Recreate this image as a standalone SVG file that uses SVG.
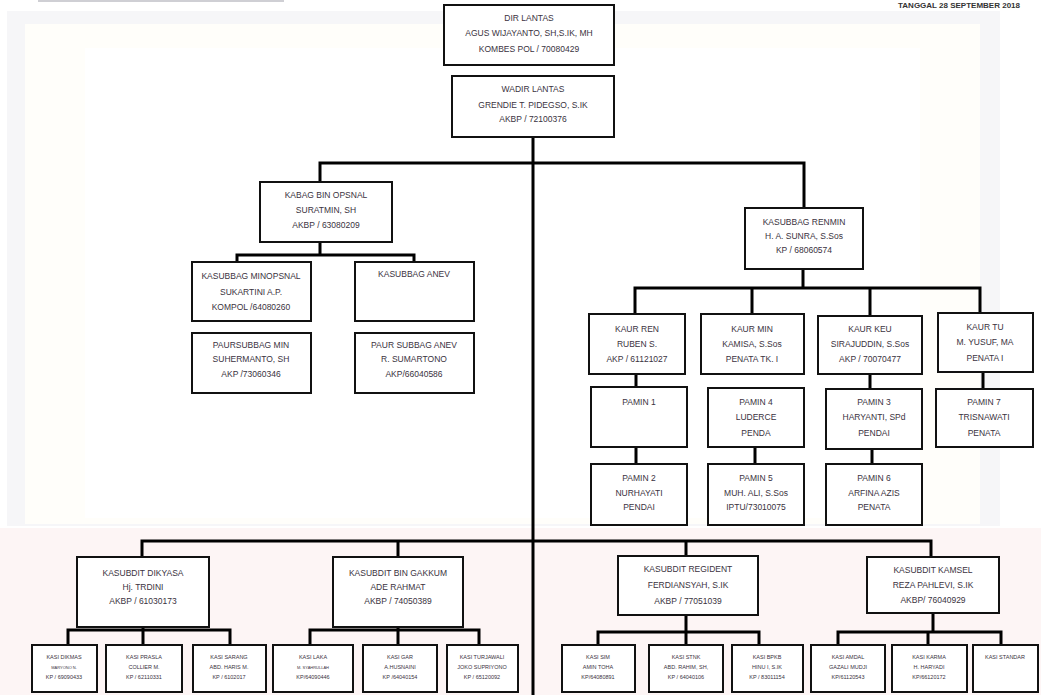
<svg xmlns="http://www.w3.org/2000/svg" width="1041" height="695" viewBox="0 0 1041 695">
<style>
.b{fill:#fff;stroke:#111;stroke-width:2}
.c{stroke:#000;stroke-width:3;fill:none;stroke-linecap:square}
.t{font-family:"Liberation Sans Narrow","Liberation Sans",Arial,sans-serif;font-size:8.5px;fill:#3a3240;text-anchor:middle}
.s{font-family:"Liberation Sans Narrow","Liberation Sans",Arial,sans-serif;font-size:5.5px;fill:#3a3240;text-anchor:middle}
</style>
<rect x="0" y="0" width="1041" height="695" fill="#fff"/>
<rect x="7" y="11" width="993" height="515" fill="#f6f6f8"/>
<rect x="25" y="24" width="955" height="500" fill="#fffefa"/>
<rect x="85" y="48" width="835" height="470" fill="#fff"/>
<rect x="0" y="528" width="1041" height="167" fill="#fdf5f5"/>
<rect x="38" y="0" width="246" height="2" fill="#cfcfd4"/>
<text x="1020" y="8" style="font-family:'Liberation Sans',Arial,sans-serif;font-size:8px;font-weight:bold;fill:#333;text-anchor:end">TANGGAL 28 SEPTEMBER 2018</text>

<g id="connectors">
<path class="c" d="M533 137V695"/>
<path class="c" d="M320 163H804M320 163V182M804 163V208"/>
<path class="c" d="M320 242V255M237 255H414M237 255V262M414 255V262"/>
<path class="c" d="M803 269V288M635 288H980M635 288V314M752 288V314M870 288V316M980 288V313"/>
<path class="c" d="M636 374V387M870 374V389M983 372V389"/>
<path class="c" d="M636 447V464M755 447V464M872 449V464"/>
<path class="c" d="M142 541H931M142 541V557M398 541V557M686 541V556M931 541V557"/>
<path class="c" d="M143 627V630M68 630H230M68 630V645M143 630V645M230 630V645"/>
<path class="c" d="M398 627V630M310 630H479M310 630V645M398 630V645M479 630V645"/>
<path class="c" d="M686 615V632M598 632H759M598 632V645M686 632V645M759 632V645"/>
<path class="c" d="M933 613V632M838 632H1001M838 632V645M928 632V645M1001 632V645"/>
</g>

<g id="dir"><rect class="b" x="444" y="5" width="170" height="60"/>
<text class="t" x="529" y="21">DIR LANTAS</text><text class="t" x="529" y="36">AGUS WIJAYANTO, SH,S.IK, MH</text><text class="t" x="529" y="52">KOMBES POL / 70080429</text></g>
<g id="wadir"><rect class="b" x="452" y="76" width="162" height="61"/>
<text class="t" x="533" y="92">WADIR LANTAS</text><text class="t" x="533" y="108">GRENDIE T. PIDEGSO, S.IK</text><text class="t" x="533" y="122">AKBP / 72100376</text></g>

<g id="kabag"><rect class="b" x="260" y="182" width="132" height="60"/>
<text class="t" x="326" y="198">KABAG BIN OPSNAL</text><text class="t" x="326" y="213">SURATMIN, SH</text><text class="t" x="326" y="228">AKBP / 63080209</text></g>
<g id="minopsnal"><rect class="b" x="192" y="262" width="119" height="59"/>
<text class="t" x="251" y="279">KASUBBAG MINOPSNAL</text><text class="t" x="251" y="295">SUKARTINI A.P.</text><text class="t" x="251" y="310">KOMPOL /64080260</text></g>
<g id="anev"><rect class="b" x="355" y="262" width="119" height="59"/>
<text class="t" x="414" y="277">KASUBBAG ANEV</text></g>
<g id="paurmin"><rect class="b" x="192" y="333" width="119" height="60"/>
<text class="t" x="251" y="348">PAURSUBBAG MIN</text><text class="t" x="251" y="362">SUHERMANTO, SH</text><text class="t" x="251" y="377">AKP /73060346</text></g>
<g id="pauranev"><rect class="b" x="355" y="333" width="119" height="60"/>
<text class="t" x="414" y="348">PAUR SUBBAG ANEV</text><text class="t" x="414" y="362">R. SUMARTONO</text><text class="t" x="414" y="377">AKP/66040586</text></g>

<g id="renmin"><rect class="b" x="745" y="208" width="118" height="61"/>
<text class="t" x="804" y="225">KASUBBAG RENMIN</text><text class="t" x="804" y="239">H. A. SUNRA, S.Sos</text><text class="t" x="804" y="253">KP / 68060574</text></g>
<g id="kaurren"><rect class="b" x="589" y="314" width="96" height="60"/>
<text class="t" x="637" y="332">KAUR REN</text><text class="t" x="637" y="347">RUBEN S.</text><text class="t" x="637" y="362">AKP / 61121027</text></g>
<g id="kaurmin"><rect class="b" x="701" y="314" width="103" height="60"/>
<text class="t" x="752" y="332">KAUR MIN</text><text class="t" x="752" y="347">KAMISA, S.Sos</text><text class="t" x="752" y="362">PENATA TK. I</text></g>
<g id="kaurkeu"><rect class="b" x="818" y="316" width="104" height="58"/>
<text class="t" x="870" y="332">KAUR KEU</text><text class="t" x="870" y="347">SIRAJUDDIN, S.Sos</text><text class="t" x="870" y="362">AKP / 70070477</text></g>
<g id="kaurtu"><rect class="b" x="938" y="313" width="95" height="59"/>
<text class="t" x="985" y="330">KAUR  TU</text><text class="t" x="985" y="345">M. YUSUF, MA</text><text class="t" x="985" y="361">PENATA I</text></g>
<g id="pamin1"><rect class="b" x="591" y="387" width="96" height="60"/>
<text class="t" x="639" y="405">PAMIN 1</text></g>
<g id="pamin4"><rect class="b" x="708" y="388" width="96" height="59"/>
<text class="t" x="756" y="405">PAMIN 4</text><text class="t" x="756" y="420">LUDERCE</text><text class="t" x="756" y="436">PENDA</text></g>
<g id="pamin3"><rect class="b" x="826" y="389" width="96" height="60"/>
<text class="t" x="874" y="405">PAMIN 3</text><text class="t" x="874" y="420">HARYANTI, SPd</text><text class="t" x="874" y="436">PENDAI</text></g>
<g id="pamin7"><rect class="b" x="936" y="389" width="97" height="58"/>
<text class="t" x="984" y="405">PAMIN 7</text><text class="t" x="984" y="420">TRISNAWATI</text><text class="t" x="984" y="436">PENATA</text></g>
<g id="pamin2"><rect class="b" x="591" y="464" width="96" height="61"/>
<text class="t" x="639" y="481">PAMIN 2</text><text class="t" x="639" y="496">NURHAYATI</text><text class="t" x="639" y="510">PENDAI</text></g>
<g id="pamin5"><rect class="b" x="708" y="464" width="96" height="61"/>
<text class="t" x="756" y="481">PAMIN 5</text><text class="t" x="756" y="496">MUH. ALI, S.Sos</text><text class="t" x="756" y="510">IPTU/73010075</text></g>
<g id="pamin6"><rect class="b" x="826" y="464" width="96" height="61"/>
<text class="t" x="874" y="481">PAMIN 6</text><text class="t" x="874" y="496">ARFINA AZIS</text><text class="t" x="874" y="510">PENATA</text></g>

<g id="dikyasa"><rect class="b" x="77" y="557" width="132" height="70"/>
<text class="t" x="143" y="576">KASUBDIT DIKYASA</text><text class="t" x="143" y="590">Hj. TRDINI</text><text class="t" x="143" y="604">AKBP / 61030173</text></g>
<g id="gakkum"><rect class="b" x="333" y="557" width="130" height="70"/>
<text class="t" x="398" y="576">KASUBDIT BIN GAKKUM</text><text class="t" x="398" y="590">ADE RAHMAT</text><text class="t" x="398" y="604">AKBP / 74050389</text></g>
<g id="regident"><rect class="b" x="618" y="556" width="140" height="59"/>
<text class="t" x="688" y="572">KASUBDIT REGIDENT</text><text class="t" x="688" y="588">FERDIANSYAH, S.IK</text><text class="t" x="688" y="604">AKBP / 77051039</text></g>
<g id="kamsel"><rect class="b" x="867" y="557" width="132" height="56"/>
<text class="t" x="933" y="573">KASUBDIT KAMSEL</text><text class="t" x="933" y="588">REZA PAHLEVI, S.IK</text><text class="t" x="933" y="603">AKBP/  76040929</text></g>

<g id="dikmas"><rect class="b" x="32" y="645" width="65" height="47"/>
<text class="s" x="64" y="659">KASI DIKMAS</text><text class="s" x="64" y="669" style="font-size:4px">MARYONO N.</text><text class="s" x="64" y="679">KP / 69090433</text></g>
<g id="prasla"><rect class="b" x="106" y="645" width="76" height="47"/>
<text class="s" x="144" y="659">KASI PRASLA</text><text class="s" x="144" y="669">COLLIER M.</text><text class="s" x="144" y="679">KP / 62110331</text></g>
<g id="sarang"><rect class="b" x="193" y="645" width="73" height="47"/>
<text class="s" x="229" y="659">KASI SARANG</text><text class="s" x="229" y="669">ABD. HARIS M.</text><text class="s" x="229" y="679">KP / 6102017</text></g>
<g id="laka"><rect class="b" x="273" y="645" width="80" height="47"/>
<text class="s" x="313" y="659">KASI LAKA</text><text class="s" x="313" y="669" style="font-size:4px">M. SYAHRULLAH</text><text class="s" x="313" y="679">KP/64090446</text></g>
<g id="gar"><rect class="b" x="363" y="645" width="74" height="47"/>
<text class="s" x="400" y="659">KASI GAR</text><text class="s" x="400" y="669">A.HUSNAINI</text><text class="s" x="400" y="679">KP /64040154</text></g>
<g id="turjawali"><rect class="b" x="447" y="645" width="71" height="47"/>
<text class="s" x="482" y="659">KASI TURJAWALI</text><text class="s" x="482" y="669">JOKO SUPRIYONO</text><text class="s" x="482" y="679">KP / 65120092</text></g>
<g id="sim"><rect class="b" x="562" y="645" width="73" height="47"/>
<text class="s" x="598" y="659">KASI SIM</text><text class="s" x="598" y="669">AMIN TOHA</text><text class="s" x="598" y="679">KP/64080891</text></g>
<g id="stnk"><rect class="b" x="649" y="645" width="74" height="47"/>
<text class="s" x="686" y="659">KASI STNK</text><text class="s" x="686" y="669">ABD. RAHIM, SH,</text><text class="s" x="686" y="679">KP / 64040106</text></g>
<g id="bpkb"><rect class="b" x="732" y="645" width="71" height="47"/>
<text class="s" x="767" y="659">KASI BPKB</text><text class="s" x="767" y="669">HINU I, S.IK</text><text class="s" x="767" y="679">KP / 83011154</text></g>
<g id="amdal"><rect class="b" x="811" y="645" width="74" height="47"/>
<text class="s" x="848" y="659">KASI AMDAL</text><text class="s" x="848" y="669">GAZALI MUDJI</text><text class="s" x="848" y="679">KP/61120543</text></g>
<g id="karma"><rect class="b" x="892" y="645" width="75" height="47"/>
<text class="s" x="929" y="659">KASI KARMA</text><text class="s" x="929" y="669">H. HARYADI</text><text class="s" x="929" y="679">KP/66120172</text></g>
<g id="standar"><rect class="b" x="973" y="645" width="65" height="47"/>
<text class="s" x="1005" y="659">KASI STANDAR</text></g>
</svg>
